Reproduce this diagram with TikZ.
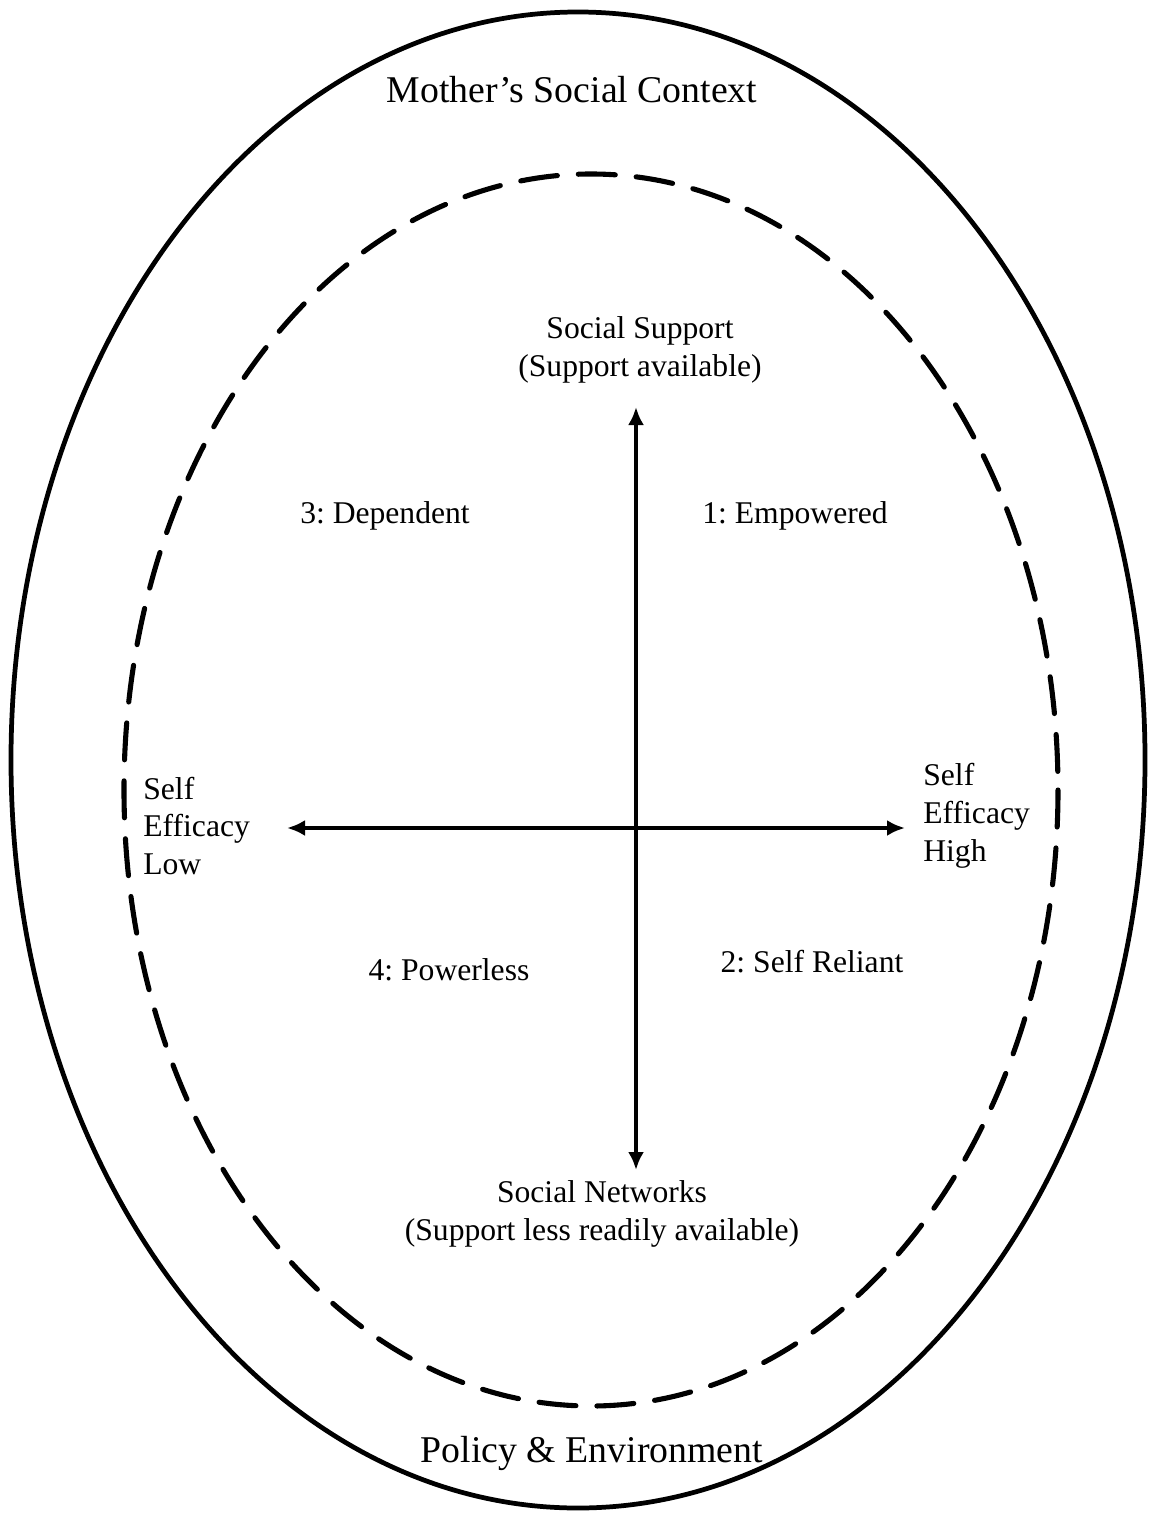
\documentclass[tikz,border=0pt]{standalone}
\usepackage{fontspec}
\setmainfont{Liberation Serif}
\usetikzlibrary{arrows.meta}
\frenchspacing

\begin{document}
\begin{tikzpicture}[x=0.02cm, y=-0.02cm]
	\tikzstyle{every node} = [inner sep=0pt, font=\fontsize{18}{21.5}\selectfont]
	\tikzstyle{big} = [font=\fontsize{21.5}{26}\selectfont]
	\tikzstyle{axis} = [line width=2.4pt, {Latex[length=0.36cm,width=0.32cm]}-{Latex[length=0.36cm,width=0.32cm]}]
	\useasboundingbox (0,0) rectangle (1154,1514);
	\draw [line width=2.7pt] (578,760) ellipse [x radius=567, y radius=748];
	\draw [line width=2.9pt, line cap=round, dash pattern=on 0.74cm off 0.42cm] (591,790) ellipse [x radius=467, y radius=616];
	\node [big, anchor=base] (context) at (572, 103) {Mother's Social Context};
	\node [big, anchor=base] (policy) at (592, 1462) {Policy \& Environment};
	\node [align=center] (support) at (640, 350) {Social Support\\(Support available)};
	\node [align=center] (networks) at (602, 1214) {Social Networks\\(Support less readily available)};
	\node [align=left, anchor=west] (low) at (143, 826) {Self\\Efficacy\\Low};
	\node [align=left, anchor=west] (high) at (923, 816) {Self\\Efficacy\\High};
	\node [anchor=base] (q3) at (385, 523) {3: Dependent};
	\node [anchor=base] (q1) at (795, 523) {1: Empowered};
	\node [anchor=base] (q4) at (449, 980) {4: Powerless};
	\node [anchor=base] (q2) at (812, 972) {2: Self Reliant};
	\coordinate (up) at (636, 407);
	\coordinate (down) at (636, 1170);
	\coordinate (left) at (287, 828);
	\coordinate (right) at (905, 828);
	\draw [axis] (down)--(up);
	\draw [axis] (left)--(right);
\end{tikzpicture}
\end{document}
